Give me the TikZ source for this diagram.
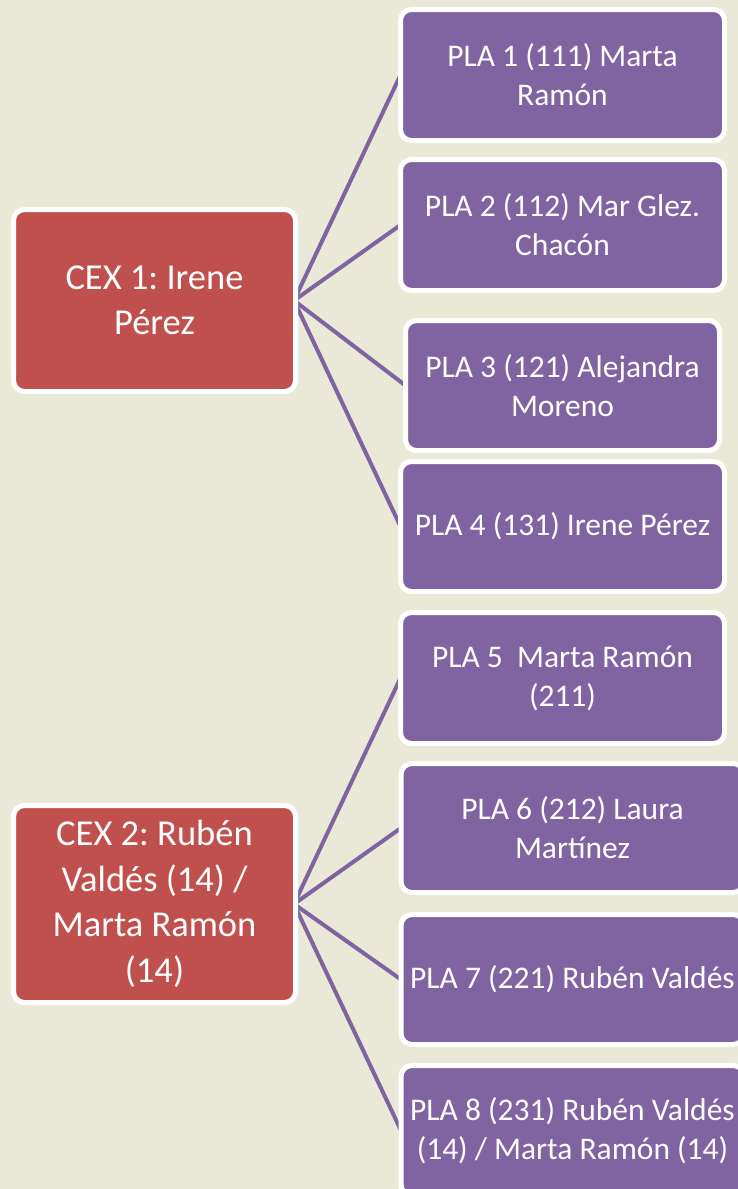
\documentclass[tikz,border=0pt]{standalone}
\usepackage{fontspec}
\setmainfont{Carlito}
\frenchspacing
\usetikzlibrary{backgrounds}
\definecolor{bgc}{RGB}{234,232,214}
\definecolor{redc}{RGB}{192,80,77}
\definecolor{purc}{RGB}{128,100,162}
\begin{document}
\begin{tikzpicture}[x=1pt,y=-1pt,
  box/.style={draw=white,line width=5pt,rounded corners=11pt,outer sep=0pt,
    inner sep=0pt,align=center,text=white,anchor=center},
  cexbox/.style={box,fill=redc,minimum width=282pt,
    font=\fontsize{36.5}{45.5}\selectfont},
  plabox/.style={box,fill=purc,minimum width=324pt,minimum height=131pt,
    font=\fontsize{31.5}{39}\selectfont},
  link/.style={draw=purc,line width=4pt}]
\useasboundingbox (0,0) rectangle (738,1189);
\begin{scope}
\clip (0,0) rectangle (738,1189);
\node[cexbox,minimum height=182pt] (c1) at (154.5,300.5) {CEX 1: Irene\\Pérez};
\node[cexbox,minimum height=197pt] (c2) at (154.5,904) {CEX 2: Rubén\\Valdés (14) /\\Marta Ramón\\(14)};
\node[plabox] (p1) at (562.5,75) {PLA 1 (111) Marta\\Ramón};
\node[plabox] (p2) at (562.5,225) {PLA 2 (112) Mar Glez.\\Chacón};
\node[plabox,minimum width=314pt,minimum height=130pt] (p3) at (562.5,385.5) {PLA 3 (121) Alejandra\\Moreno};
\node[plabox,minimum height=130pt] (p4) at (562.5,526.5) {PLA 4 (131) Irene Pérez};
\node[plabox] (p5) at (562.5,678) {PLA 5~~Marta Ramón\\(211)};
\node[plabox,minimum width=343pt,minimum height=129pt] (p6) at (572.5,828) {PLA 6 (212) Laura\\Martínez};
\node[plabox,minimum width=343pt,minimum height=130pt] (p7) at (572.5,979.5) {PLA 7 (221) Rubén Valdés};
\node[plabox,minimum width=343pt,minimum height=130pt] (p8) at (572.5,1130.5) {PLA 8 (231) Rubén Valdés\\(14) / Marta Ramón (14)};
\end{scope}
\begin{scope}[on background layer]
\fill[bgc] (0,0) rectangle (738,1189);
\foreach \p in {p1,p2,p3,p4} \draw[link] ([xshift=-1.5pt]c1.east) -- (\p.west);
\foreach \p in {p5,p6,p7,p8} \draw[link] ([xshift=-1.5pt]c2.east) -- (\p.west);
\end{scope}
\end{tikzpicture}
\end{document}
